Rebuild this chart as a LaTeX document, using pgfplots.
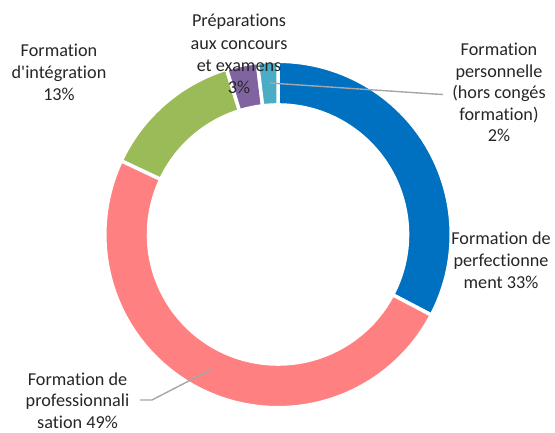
\documentclass[border=0pt]{standalone}
\usepackage{pgfplots}
\pgfplotsset{compat=1.18}
\usepackage{fontspec}
\setmainfont[Ligatures={NoCommon}]{Carlito}
\definecolor{cblue}{HTML}{0070C0}
\definecolor{cpink}{HTML}{FF8080}
\definecolor{cgreen}{HTML}{9BBB59}
\definecolor{cpurple}{HTML}{8064A2}
\definecolor{cteal}{HTML}{4BACC6}
\definecolor{ctext}{HTML}{262626}
\definecolor{cline}{HTML}{A6A6A6}
\def\Rout{173.25}
\def\Rin{129.55}
\def\cx{278}
\def\cy{197.5}
\newcommand\cum{0}
\newcommand\slice[2]{%
  \pgfmathsetmacro\sa{90-3.6*\cum}%
  \pgfmathsetmacro\tmpc{\cum+#1}%
  \xdef\cum{\tmpc}%
  \pgfmathsetmacro\sb{90-3.6*\cum}%
  \edef\doslice{\noexpand\addplot[fill=#2, draw=white, line width=3.5pt, domain=0:4, samples=241, variable=\noexpand\t]
    ({\cx+ringrad(\noexpand\t)*cos(ringang(\noexpand\t,\sa,\sb))}, {\cy+ringrad(\noexpand\t)*sin(ringang(\noexpand\t,\sa,\sb))});}%
  \doslice}
\newcommand\lbl[3]{\node[anchor=base, inner sep=0pt, text=ctext, font=\fontsize{18.2}{22}\selectfont] at (axis cs:#1,{432-#2}) {#3};}
\begin{document}
\begin{tikzpicture}[declare function={
  ringrad(\s)=(\s<=1)*\Rout + (\s>1)*(\s<=2)*(\Rout-(\Rout-\Rin)*(\s-1)) + (\s>2)*(\s<=3)*\Rin + (\s>3)*(\Rin+(\Rout-\Rin)*(\s-3));
  ringang(\s,\p,\q)=(\s<=1)*(\p+(\q-\p)*\s) + (\s>1)*(\s<=2)*\q + (\s>2)*(\s<=3)*(\q-(\q-\p)*(\s-2)) + (\s>3)*\p;
}]
\begin{axis}[x=1pt, y=1pt, xmin=0, xmax=555, ymin=0, ymax=432, hide axis, clip=false]
\path (axis cs:0,0) rectangle (axis cs:555,432);
% values in percent, clockwise from the top
\slice{32.7}{cblue}
\slice{49.3}{cpink}
\slice{13.2}{cgreen}
\slice{2.9}{cpurple}
\slice{1.9}{cteal}
% leader lines
\draw[cline, line width=1.4pt] (axis cs:270,{432-83}) -- (axis cs:434,{432-94}) -- (axis cs:443,{432-94.5});
\draw[cline, line width=1.4pt] (axis cs:211,{432-369.5}) -- (axis cs:152,{432-400}) -- (axis cs:140,{432-400});
% labels
\lbl{239}{27}{Préparations}
\lbl{239}{49.2}{aux concours}
\lbl{239}{71.4}{et examens}
\lbl{239}{93.6}{3\%}
\lbl{59}{57}{Formation}
\lbl{59}{79}{d\textquotesingle intégration}
\lbl{59}{101}{13\%}
\lbl{499}{56}{Formation}
\lbl{499}{77.5}{personnelle}
\lbl{499}{99}{(hors congés}
\lbl{499}{120.5}{formation)}
\lbl{499}{142}{2\%}
\lbl{501}{245}{Formation de}
\lbl{501}{266.7}{perfectionne}
\lbl{501}{288.4}{ment 33\%}
\lbl{77.5}{385}{Formation de}
\lbl{77.5}{406.5}{professionnali}
\lbl{77.5}{428}{sation 49\%}
\end{axis}
\end{tikzpicture}
\end{document}
